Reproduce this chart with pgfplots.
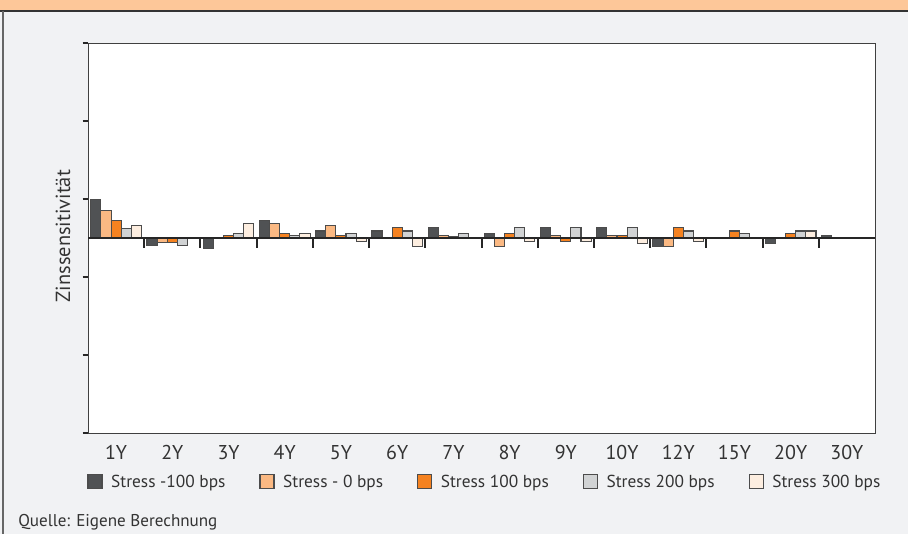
\documentclass[border=0pt]{standalone}
\usepackage{pgfplots}
\pgfplotsset{compat=1.18}
\usepackage{pgfplotstable}
\usepackage{fontspec}
\setmainfont{PT Sans}
\definecolor{cDark}{HTML}{505254}
\definecolor{cLOr}{HTML}{FBB983}
\definecolor{cOr}{HTML}{F58220}
\definecolor{cLGr}{HTML}{D1D3D4}
\definecolor{cCream}{HTML}{FDEEE0}
\definecolor{cBg}{HTML}{F1F2F4}
\definecolor{cHead}{HTML}{FDC799}
\definecolor{cTxt}{HTML}{333333}

\pgfplotstableread{
x m100 s0 s100 s200 s300
0 0.49 0.35 0.22 0.12 0.16
1 -0.10 -0.06 -0.06 -0.10 0
2 -0.14 0 0.03 0.06 0.19
3 0.23 0.19 0.06 0.03 0.06
4 0.09 0.16 0.03 0.06 -0.04
5 0.09 0 0.13 0.09 -0.11
6 0.13 0.03 0.02 0.06 0
7 0.06 -0.11 0.06 0.13 -0.04
8 0.13 0.03 -0.04 0.13 -0.04
9 0.13 0.03 0.03 0.13 -0.07
10 -0.11 -0.11 0.13 0.09 -0.04
11 0 0 0.09 0.06 0
12 -0.07 0 0.06 0.09 0.09
13 0.03 0 0 0 0
}\data

\begin{document}
\begin{tikzpicture}
\fill[cBg] (-3pt,3pt) rectangle (690pt,-403pt);
\fill[cHead] (-3pt,3pt) rectangle (690pt,-8.25pt);
\draw[black!80, line width=0.8pt] (-3pt,-8.25pt) -- (690pt,-8.25pt);
\draw[black!60, line width=0.8pt] (2.25pt,-8.25pt) -- (2.25pt,-403pt);
\begin{axis}[
  at={(66pt,-324.75pt)}, anchor=south west,
  scale only axis, width=590.25pt, height=292.5pt,
  axis background/.style={fill=white},
  xmin=-0.5, xmax=13.5, ymin=-2.5, ymax=2.5,
  ybar=0pt, bar width=0.18,
  xtick=data,
  xticklabels={1Y,2Y,3Y,4Y,5Y,6Y,7Y,8Y,9Y,10Y,12Y,15Y,20Y,30Y},
  xtick style={draw=none},
  x tick label style={font=\fontsize{15}{18}\selectfont, text=cTxt, anchor=center, yshift=-10.5pt},
  ytick={-2.5,-1.5,-0.5,0.5,1.5,2.5}, yticklabels={},
  ytick pos=left,
  ytick style={black!85, line width=1.1pt},
  tick align=outside, major tick length=4pt,
  axis line style={black!75, line width=0.75pt},
  /pgf/number format/assume math mode=true,
  ylabel={Zinssensitivität},
  ylabel style={font=\fontsize{15.3}{18}\selectfont, text=cTxt, at={(axis description cs:-0.0318,0.505)}, anchor=center},
  legend columns=5,
  legend style={at={(axis description cs:-0.001,-0.1256)}, anchor=west, draw=none, fill=none, inner sep=0pt,
    font=\fontsize{13}{15}\selectfont, text=cTxt,
    nodes={inner sep=0pt, anchor=base west},
    /tikz/every odd column/.append style={column sep=6.5pt},
    /tikz/every even column/.append style={column sep=25.5pt}},
  legend image code/.code={\draw[#1, line width=0.8pt] (0pt,-1pt) rectangle (10.5pt,9.5pt);},
  every axis plot/.append style={draw=black!70, line width=0.8pt},
]
\addplot[fill=cDark] table[x=x,y=m100] {\data};
\addplot[fill=cLOr] table[x=x,y=s0] {\data};
\addplot[fill=cOr] table[x=x,y=s100] {\data};
\addplot[fill=cLGr] table[x=x,y=s200] {\data};
\addplot[fill=cCream] table[x=x,y=s300] {\data};
\legend{Stress -100 bps, Stress - 0 bps, Stress 100 bps, Stress 200 bps, Stress 300 bps}
\draw[black!85, line width=1.5pt] ([xshift=-6pt]axis cs:-0.5,0) -- (axis cs:13.5,0);
\pgfplotsinvokeforeach{0.5,1.5,2.5,3.5,4.5,5.5,6.5,7.5,8.5,9.5,10.5,11.5,12.5}{
  \draw[black!85, line width=1.5pt] (axis cs:#1,0) -- ([yshift=-7.5pt]axis cs:#1,0);
}
\end{axis}
\node[anchor=base west, font=\fontsize{12.8}{15}\selectfont, text=cTxt, inner sep=0pt] at (13.5pt,-394.5pt) {Quelle: Eigene Berechnung};
\pgfresetboundingbox
\path[use as bounding box] (0,0) rectangle (681pt,-399.75pt);
\end{tikzpicture}
\end{document}
